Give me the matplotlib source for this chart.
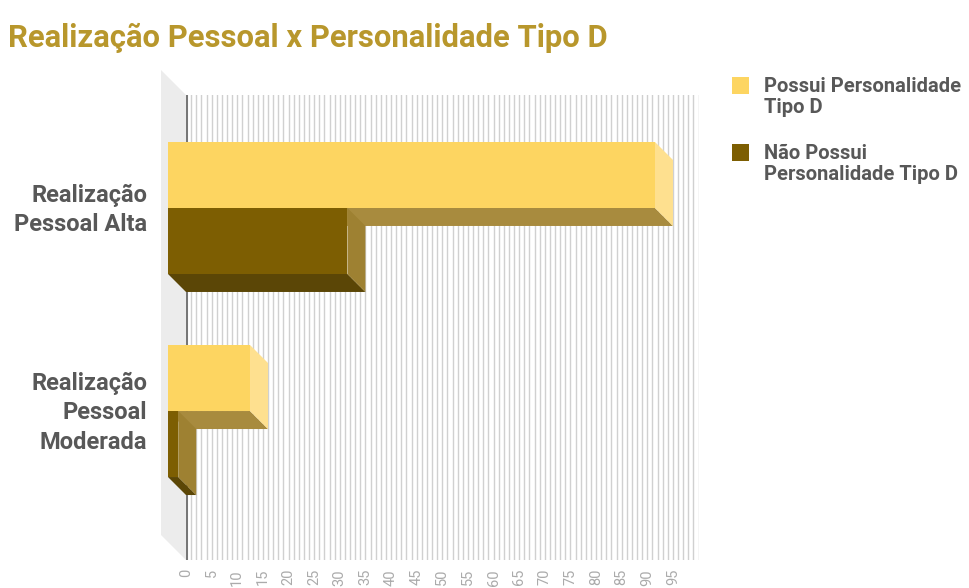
import matplotlib
matplotlib.use("Agg")
import matplotlib.pyplot as plt
from matplotlib.patches import Polygon, Rectangle
from matplotlib.ticker import MultipleLocator

# ---- data -------------------------------------------------------------
categories = ["Realização\nPessoal Alta", "Realização\nPessoal\nModerada"]
series_names = ["Possui Personalidade\nTipo D", "Não Possui\nPersonalidade Tipo D"]
possui = [95, 16]
nao_possui = [35, 2]
x_ticks = list(range(0, 100, 5))
title = "Realização Pessoal x Personalidade Tipo D"

# ---- styling ----------------------------------------------------------
FONT = "Roboto"
TEXT_GREY = "#585858"
TITLE_GOLD = "#b8972c"
# front / right side / underside colours of each series
POSSUI_COLS = ("#fdd561", "#fee08f", "#a88b3e")
NAO_COLS = ("#7d5e02", "#9e8132", "#5b4606")

W, H = 969, 588
fig = plt.figure(figsize=(W / 100, H / 100), dpi=100)
fig.patch.set_facecolor("white")

# back wall of the plot (pixel placement of the axes)
ax_left, ax_right, ax_top, ax_bottom = 186, 698.6, 95, 560
ax = fig.add_axes([ax_left / W, 1 - ax_bottom / H,
                   (ax_right - ax_left) / W, (ax_bottom - ax_top) / H])
ax.set_xlim(0, 100)
ax.set_ylim(1.645, -0.645)
ax.set_facecolor("white")
for s in ax.spines.values():
    s.set_visible(False)

px_x = (ax_right - ax_left) / 100.0      # pixels per value unit
px_y = (ax_bottom - ax_top) / 2.29       # pixels per category unit

# fine vertical grid on the back wall
ax.xaxis.set_minor_locator(MultipleLocator(1))
ax.set_xticks(x_ticks, labels=[str(t) for t in x_ticks], fontfamily=FONT,
              fontsize=10.5, color="#ababab", rotation=90, va="top")
ax.grid(which="both", axis="x", color="#d0d0d0", linewidth=1.0, zorder=1)
ax.set_axisbelow(True)
ax.axvline(0, color="#777777", linewidth=2.2, zorder=2)
ax.tick_params(axis="x", which="both", length=0, pad=6.5)

# left side wall in perspective
wdx, wdy = 25 / px_x, 25 / px_y
y_lo, y_hi = ax.get_ylim()[1], ax.get_ylim()[0]
wall = Polygon([(0, y_lo), (0, y_hi), (-wdx, y_hi - wdy), (-wdx, y_lo - wdy)],
               closed=True, facecolor="#ececec", edgecolor="none",
               clip_on=False, zorder=0.5)
ax.add_patch(wall)

# 3-D bars: back face sits on the wall, front face is shifted up-left
bdx, bdy = 18 / px_x, 18 / px_y
bar_h = 66 / px_y


def bar3d(y0, y1, v, cols, z):
    front, side, under = cols
    ax.add_patch(Polygon([(-bdx, y1 - bdy), (v - bdx, y1 - bdy), (v, y1), (0, y1)],
                         closed=True, facecolor=under, edgecolor="none",
                         clip_on=False, zorder=z))
    ax.add_patch(Polygon([(v - bdx, y0 - bdy), (v, y0), (v, y1), (v - bdx, y1 - bdy)],
                         closed=True, facecolor=side, edgecolor="none",
                         clip_on=False, zorder=z + 0.1))
    ax.add_patch(Rectangle((-bdx, y0 - bdy), v, y1 - y0, facecolor=front,
                           edgecolor="none", clip_on=False, zorder=z + 0.2))


for i in range(len(categories)):
    bar3d(i - bar_h, i, possui[i], POSSUI_COLS, 3 + i)
    bar3d(i, i + bar_h, nao_possui[i], NAO_COLS, 3.5 + i)

# category labels, centred just above the front faces of each group
label_lift = 4 / px_y
ax.set_yticks([i - bdy - label_lift for i in range(len(categories))])
ax.set_yticklabels(categories, fontfamily=FONT, fontweight="bold",
                   fontsize=17, color=TEXT_GREY, linespacing=1.35,
                   multialignment="right")
ax.tick_params(axis="y", length=0, pad=28)

# title
fig.text(8 / W, 1 - 47 / H, title, fontfamily=FONT, fontweight="bold",
         fontsize=22.3, color=TITLE_GOLD, ha="left", va="baseline")

# legend
leg_items = [(85, 77, POSSUI_COLS[0]), (152, 144, NAO_COLS[0])]
sq = 17
for (yc, ytext, col), name in zip(leg_items, series_names):
    fig.patches.append(Rectangle(((740 - sq / 2) / W, 1 - (yc + sq / 2) / H),
                                 sq / W, sq / H, transform=fig.transFigure,
                                 facecolor=col, edgecolor="none"))
    fig.text(764 / W, 1 - ytext / H, name, fontfamily=FONT,
             fontweight="bold", fontsize=14.5, color=TEXT_GREY,
             ha="left", va="top", linespacing=1.15)

fig.savefig("out.png", dpi=100, facecolor="white")
